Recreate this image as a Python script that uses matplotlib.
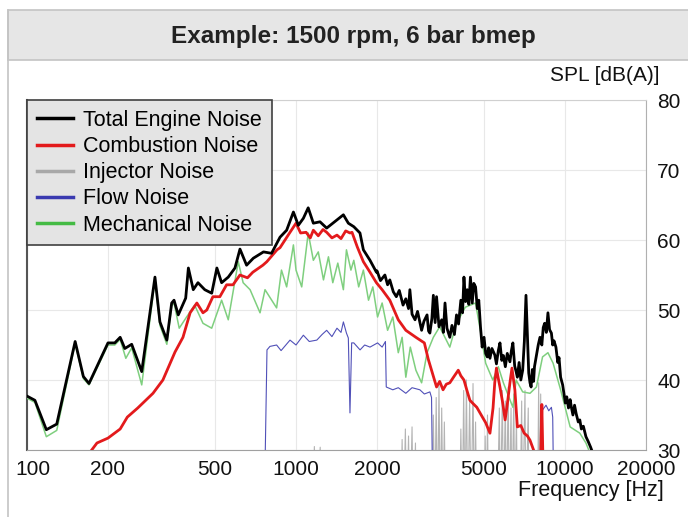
import numpy as np
import matplotlib
matplotlib.use('Agg')
import matplotlib.pyplot as plt
import matplotlib.transforms as mtransforms
from matplotlib.patches import Rectangle
from matplotlib.lines import Line2D

plt.rcParams['font.family'] = ['Liberation Sans', 'DejaVu Sans']

# Total Engine Noise
total_f = [100, 107, 118, 129, 151, 162, 170, 200, 212, 222, 231, 245, 267, 299, 312, 331, 345, 352,
           365, 389, 398, 415, 432, 458, 486, 508, 529, 560, 593, 619, 655, 694, 757, 811, 872, 923,
           978, 1020, 1065, 1110, 1160, 1228, 1300, 1370, 1500, 1565, 1640, 1729, 1780, 1884, 1990,
           2000, 2060, 2140, 2190, 2232, 2300, 2360, 2420, 2500, 2560, 2620, 2650, 2700, 2770, 2830,
           2930, 2990, 3070, 3110, 3145, 3200, 3240, 3290, 3330, 3400, 3480, 3530, 3580, 3640, 3730,
           3800, 3880, 3950, 4020, 4100, 4160, 4210, 4270, 4330, 4390, 4450, 4520, 4580, 4650, 4720,
           4780, 4850, 4920, 5000, 5070, 5140, 5200, 5260, 5350, 5480, 5560, 5650, 5730, 5820, 5900,
           6000, 6100, 6240, 6320, 6400, 6500, 6580, 6650, 6750, 6850, 6960, 7060, 7160, 7250, 7330,
           7410, 7480, 7560, 7640, 7700, 7830, 7950, 8070, 8200, 8300, 8400, 8520, 8640, 8760, 8900,
           9000, 9100, 9250, 9400, 9500, 9630, 9800, 9900, 10030, 10150, 10300, 10450, 10560, 10700,
           10850, 11000, 11200, 11350, 11500, 11700, 11960, 12200, 12450, 12700]
total_db = [37.7, 37.1, 32.9, 33.7, 45.5, 40.5, 39.5, 45.3, 45.3, 46.1, 44.5, 45.1, 41.2, 54.7, 48.3,
            45.7, 51.0, 51.4, 49.3, 51.7, 56.0, 52.9, 53.9, 52.9, 52.4, 56.0, 53.9, 54.7, 56.0, 58.7,
            56.4, 57.4, 58.3, 58.1, 60.4, 61.4, 64.0, 62.1, 63.1, 64.6, 62.4, 62.6, 61.7, 62.4, 63.6,
            62.4, 61.9, 61.0, 58.6, 57.1, 55.4,
            55.6, 54.2, 55.0, 53.6, 54.3, 52.6, 51.9, 52.8, 50.7, 51.6, 50.2, 52.9, 49.4, 48.6, 49.8,
            47.1, 48.4, 49.3, 47.0, 46.7, 48.8, 52.1, 48.2, 51.9, 47.6, 48.6, 46.8, 51.0, 47.4, 46.1,
            47.8, 46.5, 49.3, 48.0, 51.4, 49.6, 54.7, 51.2, 52.9, 50.8, 54.7, 51.0, 53.8, 53.3, 50.2,
            51.4, 47.6, 44.7, 46.1, 43.8, 43.3, 44.6, 43.1, 44.5, 43.6, 42.3, 44.2, 45.3, 42.8, 43.5,
            41.9, 43.8, 42.6, 44.2, 45.3, 42.0, 41.2, 40.4, 42.5, 40.0, 41.4, 45.5, 52.1, 46.0, 41.0,
            39.6, 39.0, 41.5, 39.8, 41.9, 43.5, 45.0, 46.1, 45.0, 47.5, 48.1, 46.8, 49.6, 47.2, 46.7,
            45.0, 45.6, 44.7, 42.5, 43.2, 40.4, 39.3, 38.2, 36.7, 37.6, 36.0, 37.2, 36.1, 35.0,
            36.4, 35.2, 34.0, 34.3, 33.0, 33.4, 31.9, 31.2, 30.4, 29.5]

# Combustion Noise
comb_f = [174, 182, 200, 222, 236, 258, 294, 320, 355, 380, 404, 428, 451, 466, 491, 521, 552, 583,
          619, 660, 691, 753, 779, 850, 872, 950, 1000, 1040, 1090, 1130, 1160, 1210, 1260, 1300, 1360,
          1420, 1470, 1530, 1587, 1615, 1690, 1780, 1884, 1990, 2090, 2232, 2400, 2560, 2790, 3000,
          3100, 3190, 3330, 3420, 3520, 3620, 3730, 3850, 4010, 4100, 4210, 4320, 4430, 4560, 4700,
          4880, 5070, 5260, 5400, 5480, 5560, 5650, 5730, 5850, 5990, 6100, 6240, 6350, 6510, 6650,
          6850, 7050, 7250, 7410, 7640, 7800, 8120, 8200, 8280]
comb_db = [30.0, 31.0, 31.7, 33.0, 34.7, 36.0, 38.1, 40.0, 44.0, 46.1, 49.6, 51.0, 49.6, 50.0, 51.9,
           51.9, 53.6, 53.6, 55.0, 54.6, 55.4, 56.4, 56.9, 58.6, 58.9, 61.1, 62.4, 61.0, 61.1, 60.3,
           61.4, 60.6, 61.5, 61.1, 60.3, 60.7, 60.2, 61.3, 61.0, 61.1, 59.0, 56.9, 55.4, 53.9, 52.9,
           51.4, 48.6, 47.1, 46.1, 45.3, 43.0, 41.4, 39.0, 39.8, 38.6, 39.4, 39.6, 40.4, 41.4, 40.6,
           40.0, 38.5, 37.1, 36.6, 36.1, 35.0, 33.9, 32.4, 36.0, 39.6, 41.7, 40.2, 39.0, 37.0, 34.3,
           36.5, 39.6, 41.7, 38.6, 33.3, 33.5, 32.4, 32.0, 31.4, 30.0, 28.0, 28.5, 36.5, 28.5]

# Injector Noise
inj_f = [1150, 1170, 1190, 1230, 1250,
         2450, 2480, 2510, 2550, 2580, 2620, 2650, 2700, 2730, 2780, 2800,
         3200, 3240, 3280, 3320, 3360, 3400, 3440, 3480, 3520, 3560, 3600,
         4050, 4100, 4150, 4200, 4250, 4300, 4350, 4420, 4480, 4550, 4600, 4650, 4700,
         5000, 5050, 5100, 5150, 5200,
         5600, 5700, 5750, 5850, 5900, 6000, 6050, 6150, 6200, 6300, 6350, 6450, 6500, 6600, 6650,
         6800, 6900, 6950, 7100, 7150, 7300, 7350,
         7900, 7980, 8050, 8120, 8180]
inj_db = [20, 30.5, 20, 30.4, 20,
          20, 31.5, 20, 33.0, 20, 32.0, 20, 33.3, 20, 31.0, 20,
          20, 35.0, 20, 37.5, 20, 39.3, 20, 36.0, 20, 34.0, 20,
          20, 33.0, 20, 38.5, 20, 40.0, 20, 37.0, 20, 39.5, 20, 34.0, 20,
          20, 32.0, 20, 35.0, 20,
          20, 36.0, 20, 38.5, 20, 37.0, 20, 39.0, 20, 36.0, 20, 38.0, 20, 35.0, 20,
          20, 37.0, 20, 38.5, 20, 36.0, 20,
          20, 39.6, 20, 38.0, 20]

# Flow Noise
flow_f = [765, 780, 800, 847, 880, 950, 1000, 1065, 1120, 1195, 1250, 1300, 1360, 1420, 1470, 1500,
          1540, 1565, 1587, 1610, 1640, 1730, 1800, 1884, 2010, 2090, 2150, 2165, 2290, 2400, 2560,
          2700, 2887, 3000, 3145, 3190, 3230, np.nan,
          8150, 8240, 8500, 8700, 8900, 9000, 9100]
flow_db = [25, 44.3, 44.8, 45.0, 44.2, 45.7, 45.0, 46.4, 45.5, 45.7, 46.5, 47.1, 46.2, 47.4, 46.8,
           48.3, 46.7, 46.0, 35.3, 45.3, 45.3, 44.3, 45.0, 44.7, 45.3, 44.7, 45.5, 39.0, 38.6, 38.9,
           38.1, 38.9, 38.6, 38.0, 38.3, 37.5, 20, np.nan,
           20, 35.7, 36.4, 35.6, 36.1, 34.7, 20]

# Mechanical Noise
mech_f = [100, 107, 118, 129, 151, 162, 170, 200, 212, 222, 233, 245, 267, 299, 312, 331, 345, 352,
          368, 392, 420, 451, 486, 529, 560, 610, 636, 675, 735, 767, 847, 883, 923, 978, 1000, 1050,
          1110, 1160, 1210, 1265, 1320, 1370, 1430, 1500, 1540, 1600, 1640, 1710, 1780, 1860, 1930,
          2010, 2090, 2190, 2290, 2400, 2480, 2560, 2660, 2790, 2930, 3070, 3240, 3420, 3730, 3950,
          4260, 4650, 4850, 5070, 5390, 5650, 5900, 6400, 6580, 6960, 7410, 7830, 8250, 8640, 9030,
          9630, 10450, 11350, 11960, 12400]
mech_db = [37.4, 36.8, 31.9, 32.8, 45.2, 40.2, 39.3, 45.0, 45.0, 45.8, 43.1, 44.6, 39.3, 54.3, 47.8,
           45.1, 50.6, 51.0, 47.4, 49.0, 50.7, 48.1, 47.4, 51.4, 48.6, 56.9, 53.9, 52.9, 49.6, 52.9,
           50.3, 55.7, 53.3, 59.3, 55.7, 53.3, 61.0, 57.1, 58.3, 54.3, 57.6, 53.9, 56.7, 52.9, 58.6,
           55.7, 57.1, 53.3, 55.7, 51.4, 53.3, 49.0, 51.0, 47.1, 49.0, 43.9, 46.1, 40.4, 44.7, 41.4,
           39.6, 43.9, 46.1, 47.6, 44.7, 48.1, 50.4, 51.0, 47.0, 42.4, 40.0, 41.9, 39.6, 36.1, 40.0,
           38.3, 38.1, 39.0, 43.3, 43.9, 42.4, 38.6, 33.3, 32.4, 31.0, 29.5]

x_ticks = [100, 200, 500, 1000, 2000, 5000, 10000, 20000]
y_ticks = [30, 40, 50, 60, 70, 80]

fig = plt.figure(figsize=(6.88, 5.17), dpi=100)
ax = fig.add_axes([27 / 688, 1 - 450 / 517, 619 / 688, 350 / 517])

# title band and frame
fig.patches.append(Rectangle((8 / 688, 1 - 60 / 517), 1, 50 / 517, transform=fig.transFigure,
                             facecolor='#e6e6e6', edgecolor='#c4c4c4', lw=1.2, zorder=0))
fig.lines.append(Line2D([8 / 688, 8 / 688], [0, 1 - 10 / 517], transform=fig.transFigure,
                        color='#c4c4c4', lw=1.2))
fig.text(0.514, 1 - 37 / 517, 'Example: 1500 rpm, 6 bar bmep', ha='center', va='center',
         fontsize=17.5, fontweight='bold', color='#222222')

ax.plot(inj_f, inj_db, color='#b4b4b4', lw=0.8, label='Injector Noise', zorder=2)
ax.plot(flow_f, flow_db, color='#5050b8', lw=0.8, label='Flow Noise', zorder=3)
ax.plot(mech_f, mech_db, color='#7fcf7f', lw=1.1, label='Mechanical Noise', zorder=4)
ax.plot(comb_f, comb_db, color='#e31a1c', lw=2.0, label='Combustion Noise', zorder=5)
ax.plot(total_f, total_db, color='black', lw=2.0, label='Total Engine Noise', zorder=6)

ax.set_xscale('log')
ax.set_xlim(100, 20000)
ax.set_ylim(30, 80)
ax.set_xticks(x_ticks)
ax.set_xticklabels([str(t) for t in x_ticks])
ax.xaxis.set_minor_locator(matplotlib.ticker.NullLocator())
ax.set_yticks(y_ticks)
ax.yaxis.tick_right()
ax.tick_params(axis='x', length=0, pad=7, labelsize=15, colors='#111111')
ax.tick_params(axis='y', length=0, pad=8, labelsize=15, colors='#111111')
ax.grid(True, color='#e8e8e8', lw=0.8)
ax.set_axisbelow(True)

# first x label sits a bit to the right of the axis edge
first = ax.get_xticklabels()[0]
first.set_transform(first.get_transform() + mtransforms.ScaledTranslation(6 / 100, 0, fig.dpi_scale_trans))

ax.spines['left'].set_color('#555555')
ax.spines['left'].set_linewidth(1.5)
ax.spines['bottom'].set_color('#a0a0a0')
ax.spines['right'].set_color('#b0b0b0')
ax.spines['top'].set_color('#d0d0d0')

ax.text(1.0226, 1.071, 'SPL [dB(A)]', transform=ax.transAxes, ha='right', va='center',
        fontsize=15, color='#111111')
ax.text(1.029, -0.117, 'Frequency [Hz]', transform=ax.transAxes, ha='right', va='center',
        fontsize=15.5, color='#111111')

handles = [Line2D([], [], color='black', lw=2.5), Line2D([], [], color='#e31a1c', lw=2.5),
           Line2D([], [], color='#a8a8a8', lw=2.5), Line2D([], [], color='#3a3ab0', lw=2.5),
           Line2D([], [], color='#44bb44', lw=2.5)]
labels = ['Total Engine Noise', 'Combustion Noise', 'Injector Noise', 'Flow Noise', 'Mechanical Noise']
leg = ax.legend(handles, labels, loc='upper left', borderaxespad=0, fontsize=15.5, fancybox=False,
                framealpha=1, facecolor='#e4e4e4', edgecolor='#404040', handlelength=1.67,
                handletextpad=0.47, labelspacing=0.24, borderpad=0.46)
leg.get_frame().set_linewidth(1.2)
leg.set_zorder(10)

fig.savefig('out.png', dpi=100)
